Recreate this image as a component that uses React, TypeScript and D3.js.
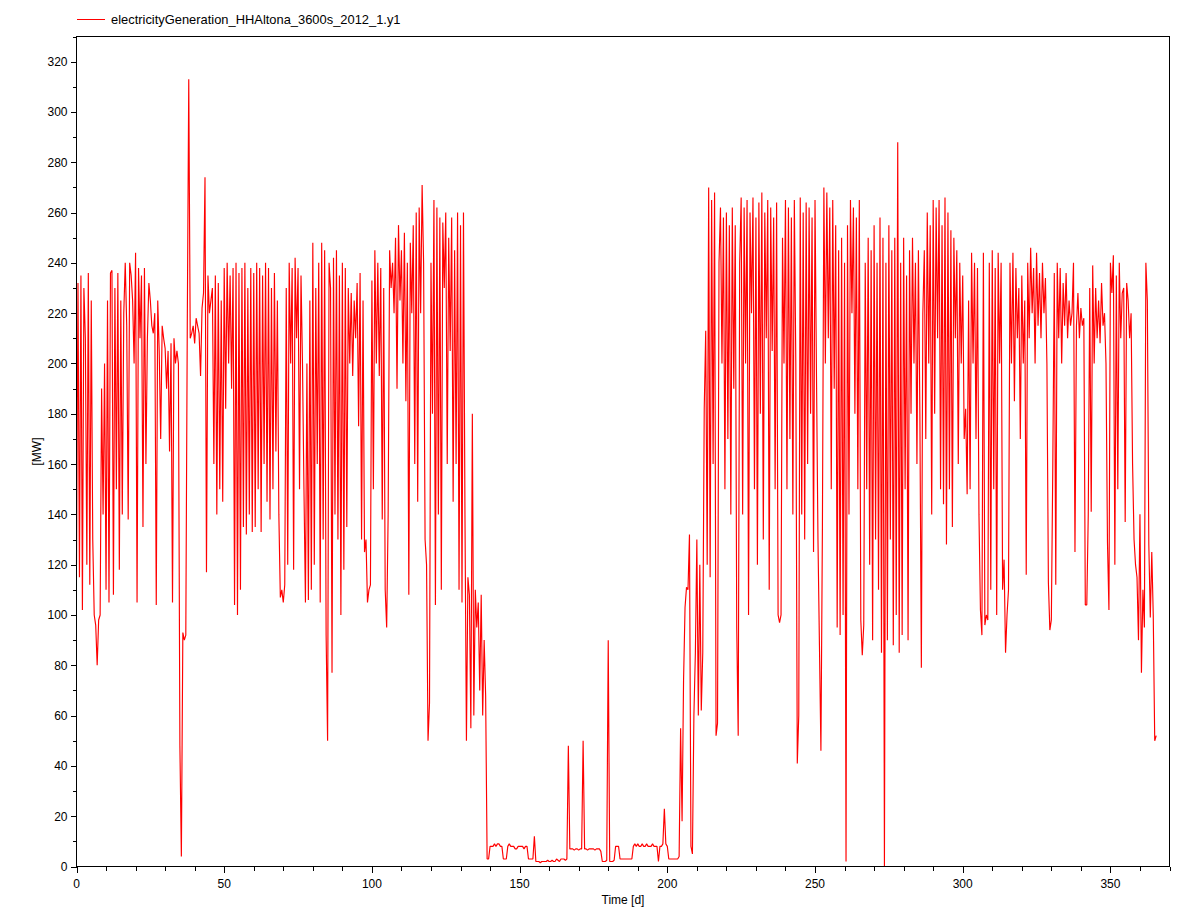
import { useEffect, useRef } from "react";
import * as d3 from "d3";

// half-day samples (00:00 and 12:00), in MW
const jan = [
  120, 232, 115, 235, 102, 230, 210, 120, 236, 112, 225, 130, 100, 96, 80, 98,
  100, 190, 140, 200, 110, 225, 105, 236, 237, 108, 230, 150, 236, 118, 225, 140,
  220, 240, 215, 138, 240, 235, 225, 200, 244, 105, 238, 210, 235, 135, 238, 160,
  210, 232, 225, 215, 212, 220, 104, 225, 205, 170, 215, 210, 206, 190,
];
const feb = [
  205, 165, 208, 105, 210, 200, 205, 200, 48, 4, 93, 90, 92, 215, 313, 210,
  212, 215, 208, 218, 215, 212, 195, 222, 228, 274, 117, 235, 220, 225, 230, 160,
  235, 140, 232, 150, 225, 145, 238, 182, 240, 200, 235, 190, 238, 104, 240, 100,
  236, 110, 238, 135, 240, 132, 230, 140, 238, 133,
];
const mar = [
  236, 135, 240, 150, 238, 133, 235, 160, 240, 145, 238, 138, 230, 150, 236, 165,
  225, 140, 107, 110, 105, 112, 230, 120, 240, 200, 238, 118, 242, 210, 238, 150,
  235, 200, 150, 105, 200, 106, 225, 110, 248, 120, 230, 160, 240, 105, 248, 130,
  245, 92, 50, 240, 230, 77, 242, 140, 245, 130, 235, 100, 240, 118,
];
const apr = [
  238, 135, 230, 200, 228, 195, 225, 210, 232, 175, 236, 130, 225, 125, 130, 105,
  110, 112, 233, 150, 245, 200, 240, 195, 238, 138, 230, 110, 95, 140, 245, 230,
  240, 220, 250, 190, 255, 225, 245, 200, 252, 185, 240, 108, 248, 220, 255, 160,
  260, 145, 262, 220, 271, 240, 130, 120, 50, 65, 240, 180,
];
const may = [
  265, 104, 262, 140, 258, 110, 256, 230, 260, 160, 250, 205, 258, 145, 245, 160,
  260, 110, 255, 105, 260, 140, 50, 115, 108, 55, 180, 60, 110, 95, 105, 70,
  108, 60, 90, 68, 3, 3, 8, 8, 8, 9, 8, 9, 9, 8, 8, 3,
  3, 3, 8, 9, 8, 8, 8, 7, 7, 8, 8, 8, 8, 7,
];
const jun = [
  8, 8, 3, 3, 3, 3, 12, 2, 2, 2, 1.5, 2, 2, 2, 2, 2.5,
  2, 2, 2.5, 2, 2, 3, 2.5, 2, 3, 3, 3, 2.5, 3, 48, 7, 7,
  7, 6.5, 7, 7, 6.5, 7, 7, 50, 7, 7, 6.5, 7, 7, 7, 7, 6.5,
  7, 7, 7, 6, 2, 2, 2, 2.5, 90, 2, 2, 2,
];
const jul = [
  2.5, 8, 8, 8, 3, 3, 3, 3, 3, 3, 3, 3, 3, 8, 9, 8,
  9, 8, 8, 9, 8, 8, 9, 8, 8, 8, 9, 8, 8, 8, 2, 8,
  8, 9, 23, 9, 8, 3, 3, 3, 3, 3, 3, 3, 4, 55, 18, 74,
  103, 111, 110, 132, 8, 5, 60, 85, 130, 60, 120, 62, 85, 182,
];
const aug = [
  213, 120, 270, 115, 265, 160, 268, 52, 57, 240, 262, 200, 258, 150, 260, 170,
  255, 140, 262, 190, 255, 95, 52, 240, 266, 140, 262, 200, 265, 100, 260, 220,
  266, 150, 258, 120, 264, 180, 268, 130, 260, 210, 265, 110, 262, 205, 258, 150,
  264, 100, 97, 100, 250, 200, 265, 150, 262, 170, 258, 140, 265, 200,
];
const sep = [
  41, 60, 266, 140, 260, 130, 264, 160, 262, 180, 258, 125, 265, 195, 130, 88,
  46, 134, 270, 200, 268, 210, 262, 150, 265, 190, 255, 95, 245, 92, 250, 100,
  240, 2, 255, 140, 265, 220, 262, 180, 258, 150, 265, 98, 84, 96, 240, 150,
  250, 120, 245, 90, 255, 130, 240, 110, 258, 85, 250, 0,
];
const oct = [
  240, 90, 255, 130, 245, 88, 250, 100, 288, 85, 240, 92, 250, 150, 235, 90,
  245, 180, 250, 200, 240, 160, 245, 180, 79, 220, 245, 170, 260, 200, 255, 140,
  265, 180, 262, 210, 265, 150, 255, 144, 266, 128, 260, 150, 253, 135, 250, 210,
  245, 160, 240, 200, 235, 170, 182, 148, 225, 150, 244, 200, 240, 170,
];
const nov = [
  238, 140, 102, 92, 244, 96, 100, 98, 240, 110, 245, 150, 238, 100, 244, 200,
  240, 110, 122, 85, 100, 110, 240, 200, 244, 185, 238, 210, 230, 170, 235, 200,
  225, 116, 240, 210, 246, 220, 238, 200, 244, 215, 236, 210, 240, 220, 234, 200,
  113, 94, 98, 160, 236, 112, 240, 210, 238, 200, 232, 215,
];
const dec = [
  236, 210, 225, 215, 220, 240, 125, 215, 228, 210, 222, 215, 218, 104, 104, 140,
  230, 141, 239, 200, 230, 210, 225, 208, 232, 215, 220, 200, 129, 102, 240, 228,
  243, 120, 235, 150, 240, 210, 228, 230, 137, 232, 225, 210, 220, 160, 130, 120,
  115, 90, 140, 77, 110, 95, 240, 225, 128, 99, 125, 100, 50, 52,
];

const generation = [jan, feb, mar, apr, may, jun, jul, aug, sep, oct, nov, dec].flat();
const stepDays = 0.5;

const yTicks = d3.range(0, 321, 20);
const yMinor = d3.range(0, 331, 10);
const xTicks = [0, 50, 100, 150, 200, 250, 300, 350];
const xMinor = d3.range(0, 371, 10);

const seriesName = "electricityGeneration_HHAltona_3600s_2012_1.y1";

const W = 1194;
const H = 916;
const left = 76.5;
const right = 1169.5;
const top = 36.5;
const bottom = 866.5;
const font = "'Liberation Sans', Arial, sans-serif";

const Chart = () => {
  const ref = useRef<SVGSVGElement>(null);

  useEffect(() => {
    if (!ref.current) return;
    const svg = d3.select(ref.current);
    svg.selectAll("*").remove();

    const x = d3.scaleLinear().domain([0, 370]).range([left, right]);
    const y = d3.scaleLinear().domain([0, 330]).range([bottom, top]);

    svg.append("rect").attr("width", W).attr("height", H).attr("fill", "#fff");

    // data line
    const line = d3
      .line<number>()
      .x((_, i) => x(i * stepDays))
      .y((d) => y(d));
    svg
      .append("path")
      .datum(generation)
      .attr("d", line)
      .attr("fill", "none")
      .attr("stroke", "#ff0000")
      .attr("stroke-width", 1.15)
      .attr("stroke-linejoin", "bevel");

    // frame
    svg
      .append("rect")
      .attr("x", left)
      .attr("y", top)
      .attr("width", right - left)
      .attr("height", bottom - top)
      .attr("fill", "none")
      .attr("stroke", "#000")
      .attr("stroke-width", 1)
      .attr("shape-rendering", "crispEdges");

    // y ticks
    const gy = svg.append("g").attr("stroke", "#000").attr("stroke-width", 1).attr("shape-rendering", "crispEdges");
    yMinor.forEach((v) => {
      const yy = Math.round(y(v)) + 0.5;
      const len = v % 20 === 0 ? 6 : 4;
      gy.append("line").attr("x1", left - len).attr("x2", left).attr("y1", yy).attr("y2", yy);
    });
    svg
      .append("g")
      .selectAll("text")
      .data(yTicks)
      .enter()
      .append("text")
      .attr("x", left - 9)
      .attr("y", (d) => y(d) + 4.5)
      .attr("text-anchor", "end")
      .attr("font-family", font)
      .attr("font-size", 12)
      .attr("fill", "#000")
      .text((d) => d);

    // x ticks
    const gx = svg.append("g").attr("stroke", "#000").attr("stroke-width", 1).attr("shape-rendering", "crispEdges");
    xMinor.forEach((v) => {
      const xx = Math.round(x(v)) + 0.5;
      const len = v % 50 === 0 ? 6 : 4;
      gx.append("line").attr("x1", xx).attr("x2", xx).attr("y1", bottom).attr("y2", bottom + len);
    });
    svg
      .append("g")
      .selectAll("text")
      .data(xTicks)
      .enter()
      .append("text")
      .attr("x", (d) => x(d))
      .attr("y", bottom + 21)
      .attr("text-anchor", "middle")
      .attr("font-family", font)
      .attr("font-size", 12)
      .attr("fill", "#000")
      .text((d) => d);

    // axis titles
    svg
      .append("text")
      .attr("x", (left + right) / 2)
      .attr("y", 904)
      .attr("text-anchor", "middle")
      .attr("font-family", font)
      .attr("font-size", 12)
      .text("Time [d]");
    svg
      .append("text")
      .attr("transform", `translate(41,${(top + bottom) / 2}) rotate(-90)`)
      .attr("text-anchor", "middle")
      .attr("font-family", font)
      .attr("font-size", 12)
      .text("[MW]");

    // legend
    svg
      .append("line")
      .attr("x1", 77)
      .attr("x2", 105)
      .attr("y1", 19.5)
      .attr("y2", 19.5)
      .attr("stroke", "#ff0000")
      .attr("stroke-width", 1)
      .attr("shape-rendering", "crispEdges");
    svg
      .append("text")
      .attr("x", 111)
      .attr("y", 24)
      .attr("font-family", font)
      .attr("font-size", 12.9)
      .text(seriesName);
  }, []);

  return <svg ref={ref} width={W} height={H} style={{ position: "absolute", left: 0, top: 0 }}></svg>;
};

export default function App() {
  return <Chart />;
}
